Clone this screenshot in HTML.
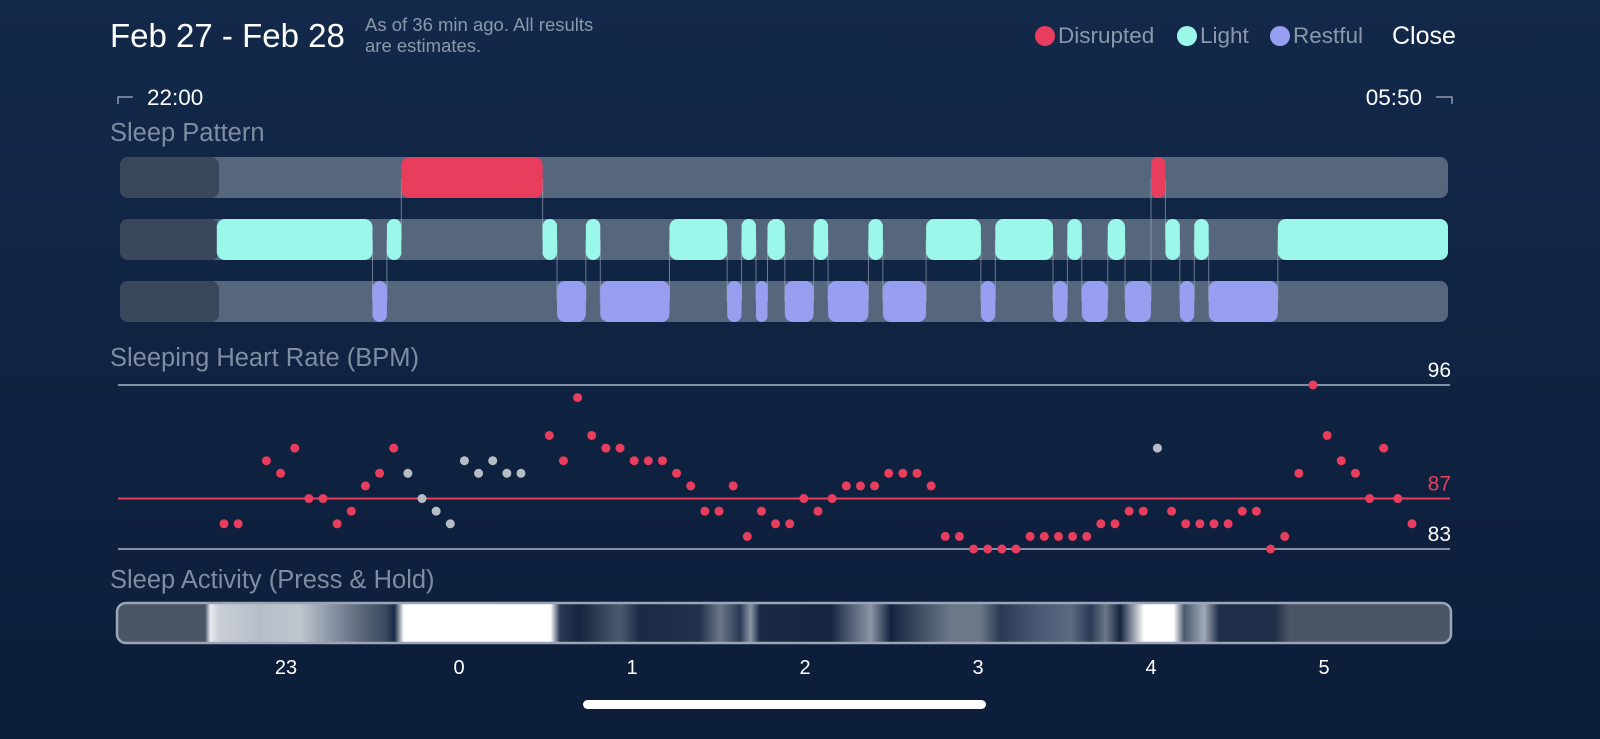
<!DOCTYPE html>
<html><head><meta charset="utf-8">
<style>
html,body{margin:0;padding:0;width:1600px;height:739px;overflow:hidden;background:#0f2444;}
svg{display:block;font-family:"Liberation Sans",sans-serif;}
</style></head>
<body>
<svg id="chart" width="1600" height="739" viewBox="0 0 1600 739" xmlns="http://www.w3.org/2000/svg">
<defs>
<linearGradient id="bg" x1="0" y1="0" x2="0" y2="1">
<stop offset="0" stop-color="#13294a"/><stop offset="1" stop-color="#0c1d39"/>
</linearGradient>
<linearGradient id="act" x1="117" y1="0" x2="1451" y2="0" gradientUnits="userSpaceOnUse">
<stop offset="0" stop-color="#4a5566"/><stop offset="0.066" stop-color="#4a5566"/>
<stop offset="0.07" stop-color="#e8ecf0"/><stop offset="0.077" stop-color="#c9ced6"/>
<stop offset="0.107" stop-color="#b8bec8"/><stop offset="0.137" stop-color="#c0c6ce"/>
<stop offset="0.16" stop-color="#8a96a6"/><stop offset="0.182" stop-color="#5d6a7c"/>
<stop offset="0.201" stop-color="#3a4a60"/><stop offset="0.208" stop-color="#1a2a45"/>
<stop offset="0.215" stop-color="#ffffff"/><stop offset="0.325" stop-color="#ffffff"/>
<stop offset="0.332" stop-color="#2a3a55"/><stop offset="0.347" stop-color="#152540"/>
<stop offset="0.377" stop-color="#4a5a70"/><stop offset="0.392" stop-color="#1a2a45"/>
<stop offset="0.437" stop-color="#22324c"/><stop offset="0.452" stop-color="#6a7888"/>
<stop offset="0.467" stop-color="#2a3a55"/><stop offset="0.475" stop-color="#8a96a6"/>
<stop offset="0.482" stop-color="#1a2a45"/><stop offset="0.535" stop-color="#152540"/>
<stop offset="0.565" stop-color="#8a96a6"/><stop offset="0.58" stop-color="#142440"/>
<stop offset="0.625" stop-color="#6a7888"/><stop offset="0.647" stop-color="#6a7888"/>
<stop offset="0.662" stop-color="#2a3a55"/><stop offset="0.692" stop-color="#4a5a75"/>
<stop offset="0.715" stop-color="#5a6a80"/><stop offset="0.73" stop-color="#2a3a55"/>
<stop offset="0.741" stop-color="#6a7888"/><stop offset="0.752" stop-color="#152540"/>
<stop offset="0.77" stop-color="#ffffff"/><stop offset="0.792" stop-color="#ffffff"/>
<stop offset="0.8" stop-color="#4a5a70"/><stop offset="0.815" stop-color="#a0aab6"/>
<stop offset="0.826" stop-color="#1e2e48"/><stop offset="0.868" stop-color="#1e2e48"/>
<stop offset="0.879" stop-color="#4a5566"/><stop offset="1" stop-color="#4a5566"/>
</linearGradient>
</defs>
<rect x="0" y="0" width="1600" height="739" fill="url(#bg)"/>
<text x="110" y="47" font-size="33" fill="#ffffff">Feb 27 - Feb 28</text>
<text x="365" y="31" font-size="18.5" fill="#8b98ab">As of 36 min ago. All results</text>
<text x="365" y="52" font-size="18.5" fill="#8b98ab">are estimates.</text>
<g>
<circle cx="1045" cy="36" r="10" fill="#e93d5e"/>
<text x="1058" y="43" font-size="22.5" fill="#8b98ab">Disrupted</text>
<circle cx="1187" cy="36" r="10" fill="#9af7ea"/>
<text x="1200" y="43" font-size="22.5" fill="#8b98ab">Light</text>
<circle cx="1280" cy="36" r="10" fill="#999ff0"/>
<text x="1293" y="43" font-size="22.5" fill="#8b98ab">Restful</text>
</g>
<text x="1392" y="44" font-size="25" fill="#ffffff">Close</text>
<path d="M118 104 V97 H133" stroke="#8b98ab" stroke-width="1.5" fill="none"/>
<text x="147" y="105" font-size="22.5" fill="#ffffff">22:00</text>
<text x="1422" y="105" font-size="22.5" fill="#ffffff" text-anchor="end">05:50</text>
<path d="M1436 97 H1452 V104" stroke="#8b98ab" stroke-width="1.5" fill="none"/>
<text x="110" y="141" font-size="25.5" fill="#7f8da2">Sleep Pattern</text>
<text x="110" y="366" font-size="25.5" fill="#7f8da2">Sleeping Heart Rate (BPM)</text>
<text x="110" y="588" font-size="25.5" fill="#7f8da2">Sleep Activity (Press &amp; Hold)</text>
<g id="pattern"></g>
<g id="hr"></g>
<rect x="117" y="603" width="1334" height="40" rx="9" fill="url(#act)" stroke="#9aa6b8" stroke-width="2.5"/>
<g id="xaxis"></g>
<rect x="583" y="700" width="403" height="9" rx="4.5" fill="#ffffff"/>
</svg>
<script>
// minutes since 22:00
const disruptedStarts = [100, 360];
const disruptedEnds   = [149, 365];
const lightStarts = [36, 95, 149, 164, 193, 218, 227, 243, 262, 282, 306, 331, 345, 365, 375, 404];
const lightEnds   = [90, 100, 154, 169, 213, 223, 233, 248, 267, 301, 326, 336, 351, 370, 380, 463];
const restfulStarts = [90, 154, 169, 213, 223, 233, 248, 267, 301, 326, 336, 351, 370, 380];
const restfulEnds   = [95, 164, 193, 218, 227, 243, 262, 282, 306, 331, 345, 360, 375, 404];
// heart rate samples: index (≈5 min steps), bpm, gray flag
const hrIndex = [0,1,3,4,5,6,7,8,9,10,11,12,13,14,15,16,17,18,19,20,21,23,24,25,26,27,28,29,30,31,32,33,34,35,36,37,38,39,40,41,42,43,44,45,46,47,48,49,50,51,52,53,54,55,56,57,58,59,60,61,62,63,64,65,66,67,68,69,70,71,72,73,74,75,76,77,78,79,80,81,82,83,84];
const hrValues = [85,85,90,89,91,87,87,85,86,88,89,91,89,87,86,85,90,89,90,89,89,92,90,95,92,91,91,90,90,90,89,88,86,86,88,84,86,85,85,87,86,87,88,88,88,89,89,89,88,84,84,83,83,83,83,84,84,84,84,84,85,85,86,86,91,86,85,85,85,85,86,86,83,84,89,96,92,90,89,87,91,87,85];
const hrGray = [13,14,15,16,17,18,19,20,21,66];
const refValues = [96, 87, 83];
const hourTicks = [-1, 0, 1, 2, 3, 4, 5];
const hourLabels = ["23", "0", "1", "2", "3", "4", "5"];

const NS = "http://www.w3.org/2000/svg";
const X0 = 113, PXMIN = 173/60;
function xMin(m){ return X0 + m*PXMIN; }
function xHour(h){ return X0 + (h+2)*173; }
function yBpm(v){ return 549 - (v-83)*(164/13); }
const HR_M0 = 38.5, HR_STEP = 4.905;
function mk(tag, attrs, parent){ const e=document.createElementNS(NS,tag); for(const k in attrs) e.setAttribute(k, attrs[k]); parent.appendChild(e); return e; }

const pat = document.getElementById('pattern');
const rowsY = [157, 219, 281];
const rowNames = ['disrupted-row','light-row','restful-row'];
rowsY.forEach((y,i)=>{
  const r = mk('rect',{x:120,y:y,width:1328,height:41,rx:8,fill:'#56677d'},pat);
  
  
  const d = mk('rect',{x:120,y:y,width:99,height:41,rx:8,fill:'#38475a'},pat);
  
  
});
function conn(m, y1, y2){
  const l = mk('line',{x1:xMin(m),x2:xMin(m),y1:y1,y2:y2,stroke:'#a9b4c4','stroke-opacity':0.6,'stroke-width':1},pat);
  
  
}
disruptedStarts.forEach(m=>conn(m,178,240));
disruptedEnds.forEach(m=>conn(m,178,240));
restfulStarts.forEach(m=>conn(m,240,302));
restfulEnds.forEach(m=>conn(m,240,302));
function segs(starts, ends, y, color, name){
  starts.forEach((s,i)=>{
    const x1=xMin(s), x2=xMin(ends[i]);
    const w=Math.max(x2-x1,4);
    const r = mk('rect',{x:x1,y:y,width:w,height:41,rx:Math.min(8,w/2),fill:color},pat);
    
    
  });
}
segs(disruptedStarts, disruptedEnds, 157, '#e93d5e', 'disrupted-segment');
segs(lightStarts, lightEnds, 219, '#9af7ea', 'light-segment');
segs(restfulStarts, restfulEnds, 281, '#999ff0', 'restful-segment');

const hr = document.getElementById('hr');
refValues.forEach((v,i)=>{
  const y=yBpm(v);
  const l = mk('line',{x1:118,x2:1450,y1:y,y2:y,stroke:i===1?'#e93d5e':'#8391a6','stroke-width':2},hr);
  
  
  const t = mk('text',{x:1451,y:y-8,'font-size':21,fill:i===1?'#e93d5e':'#ffffff','text-anchor':'end'},hr);
  t.textContent = v;
  
  
});
hrValues.forEach((v,i)=>{
  const idx = hrIndex[i];
  const gray = hrGray.includes(idx);
  const c = mk('circle',{cx:xMin(HR_M0+idx*HR_STEP),cy:yBpm(v),r:4.5,fill:gray?'#b7bdc6':'#e93d5e'},hr);
  
  
});

const xa = document.getElementById('xaxis');
hourTicks.forEach((h,i)=>{
  const x = xHour(h);
  const t = mk('text',{x:x,y:674,'font-size':20,fill:'#ffffff','text-anchor':'middle'},xa);
  t.textContent = hourLabels[i];
  
  
});
</script>
</body></html>
